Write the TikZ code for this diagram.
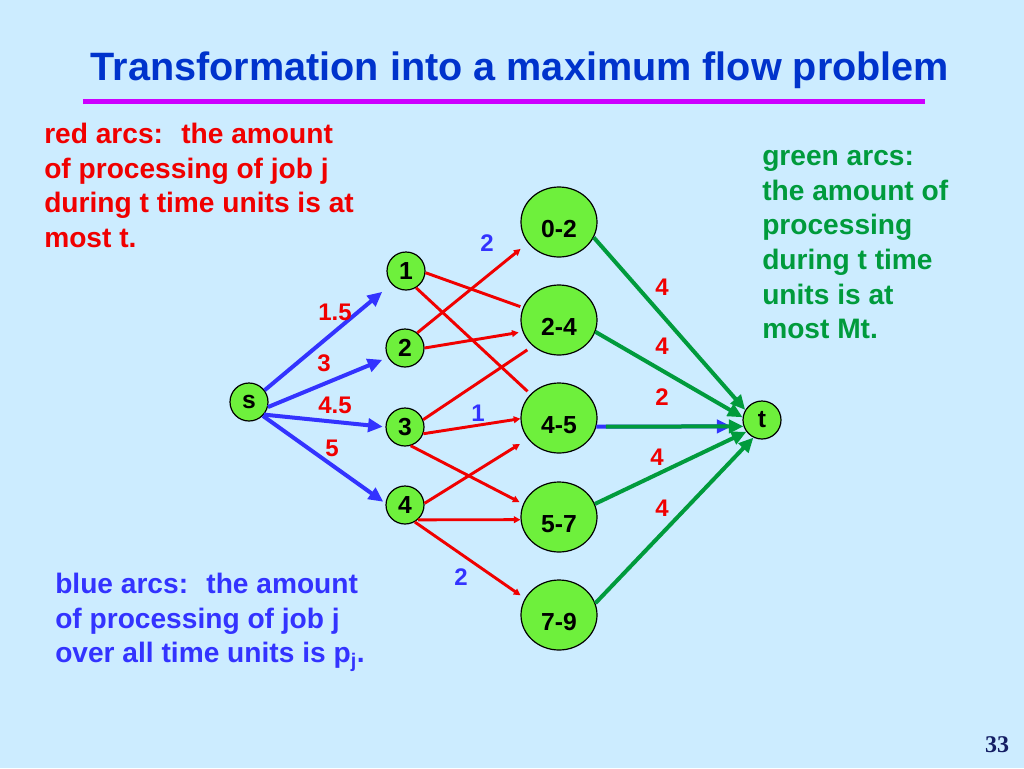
\documentclass[tikz,border=0pt]{standalone}
\usepackage{fontspec}
\setmainfont{Liberation Sans}
\newfontfamily\pagefont{Liberation Serif}
\usetikzlibrary{ arrows.meta,      % For the filled arrow tips
                 shapes.geometric, % For the ellipse nodes
               }
\definecolor{bgblue}{RGB}{204,236,255}
\definecolor{titleblue}{RGB}{0,51,204}
\definecolor{rulecolor}{RGB}{204,0,255}
\definecolor{arcred}{RGB}{240,0,0}
\definecolor{arcblue}{RGB}{51,51,255}
\definecolor{arcgreen}{RGB}{0,155,60}
\definecolor{nodegreen}{RGB}{110,240,60}
\definecolor{pagenum}{RGB}{20,30,100}
\tikzstyle{job} = [circle, minimum size=28.5pt, inner sep=0pt, draw=black, line width=0.9pt, fill=nodegreen, font=\fontsize{18.5}{20}\bfseries\selectfont]
\tikzstyle{slot} = [job, ellipse, minimum width=57pt, minimum height=52.5pt, text height=23pt, text depth=0pt]
\tikzstyle{blue arc} = [arcblue, line width=3pt, -{Triangle[length=11pt,width=10pt]}]
\tikzstyle{green arc} = [arcgreen, line width=3pt, -{Triangle[length=11pt,width=10pt]}]
\tikzstyle{red arc} = [arcred, line width=2.2pt]
\tikzstyle{red arrow} = [red arc, -{Triangle[length=5pt,width=5pt]}]
\tikzstyle{weight} = [font=\fontsize{18}{20}\bfseries\selectfont]
\tikzstyle{note} = [anchor=north west, align=left, inner sep=0pt, font=\fontsize{21.1}{25.9}\bfseries\selectfont]

\begin{document}
\begin{tikzpicture}[x=0.75pt, y=-0.75pt]
  \fill [bgblue] (0,0) rectangle (1024,768);
  \node (title) [anchor=base, text=titleblue, font=\fontsize{29.7}{34}\bfseries\selectfont] at (520,80) {Transformation into a maximum flow problem};
  \draw [rulecolor, line width=3.75pt] (83,101) -- (925,101);

  \node (s) [job] at (249,402) {s};
  \node (n1) [job] at (406,271) {1};
  \node (n2) [job] at (405,348) {2};
  \node (n3) [job] at (405,427) {3};
  \node (n4) [job] at (405,505) {4};
  \node (n02) [slot] at (559,222) {0-2};
  \node (n24) [slot] at (559,320) {2-4};
  \node (n45) [slot] at (559,418) {4-5};
  \node (n57) [slot] at (559,517) {5-7};
  \node (n79) [slot] at (559,615) {7-9};
  \node (t) [job] at (762,420) {t};

  % source arcs
  \draw [blue arc, shorten >=9pt] (s.37) -- (n1.222);
  \draw [blue arc, shorten >=4.5pt] (s.-15) -- (n2.209);
  \draw [blue arc, shorten >=2pt] (s.-40) -- (n3.180);
  \draw [blue arc, shorten >=2pt] (s.-45) -- (n4.175);

  % job to interval arcs
  \draw [red arc, shorten >=2pt] (n1.-5) -- (n24.161);
  \draw [red arc, shorten >=3pt] (n1.-59) -- (n45.140);
  \draw [red arrow, shorten >=7pt] (n2.51) -- (n02.214);
  \draw [red arrow, shorten >=3pt] (n2.0) -- (n24.198);
  \draw [red arc, shorten >=5pt] (n3.22) -- (n24.225);
  \draw [red arrow] (n3.-20) -- (n45.181);
  \draw [red arrow, shorten >=3pt] (n3.-73) -- (n57.160);
  \draw [red arrow, shorten >=7pt] (n4.5) -- (n45.214);
  \draw [red arrow] (n4.-49) -- (n57.184);
  \draw [red arrow, shorten >=4pt] (n4.-60) -- (n79.154);

  % interval to sink arcs
  \draw [green arc] (n02.-24) -- (t.149);
  \draw [green arc] (n24.-18) -- (t.172);
  \draw [blue arc, shorten >=9pt] (n45.-13) -- (t.199);
  \draw [green arc, shorten <=7pt] (n45.-13) -- (t.199);
  \draw [green arc] (n57.20) -- (t.217);
  \draw [green arc] (n79.18) -- (t.244);

  \node (w1) [weight, text=arcred] at (335,312) {1.5};
  \node (w2) [weight, text=arcred] at (324,363) {3};
  \node (w3) [weight, text=arcred] at (335,405) {4.5};
  \node (w4) [weight, text=arcred] at (332,448) {5};
  \node (b02) [weight, text=arcblue] at (487,243) {2};
  \node (b45) [weight, text=arcblue] at (478,413) {1};
  \node (b79) [weight, text=arcblue] at (461,577) {2};
  \node (g02) [weight, text=arcred] at (662,287) {4};
  \node (g24) [weight, text=arcred] at (662,346) {4};
  \node (g45) [weight, text=arcred] at (662,397) {2};
  \node (g57) [weight, text=arcred] at (657,457) {4};
  \node (g79) [weight, text=arcred] at (662,508) {4};

  \node (redtext) [note, text=arcred] at (44,123) {red arcs: \ the amount\\of processing of job j\\during t time units is at\\most t.};
  \node (greentext) [note, text=arcgreen] at (762,150.5) {green arcs:\\the amount of\\processing\\during t time\\units is at\\most Mt.};
  \node (bluetext) [note, text=arcblue] at (55,573) {blue arcs: \ the amount\\of processing of job j\\over all time units is p\textsubscript{j}.};
  \node (page) [anchor=base, text=pagenum, font=\pagefont\fontsize{18}{20}\bfseries\selectfont] at (997,752) {33};
\end{tikzpicture}
\end{document}
